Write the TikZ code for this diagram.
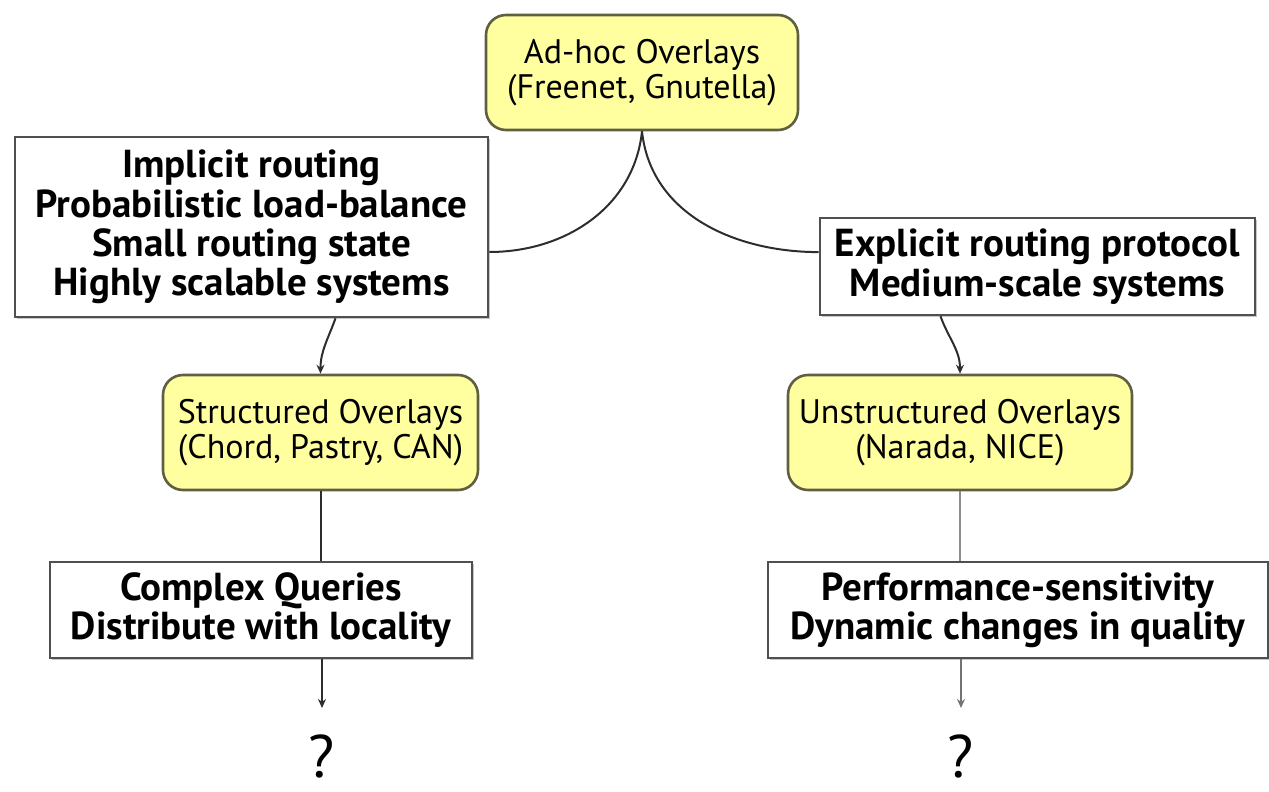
\documentclass[tikz,border=0pt]{standalone}
\usepackage{fontspec}
\setmainfont{PT Sans}
\usetikzlibrary{arrows.meta,shadows}
\definecolor{ovfill}{RGB}{255,255,160}
\definecolor{ovdraw}{RGB}{95,95,65}
\definecolor{boxdraw}{RGB}{80,80,80}
\definecolor{conn}{RGB}{45,45,45}
\tikzset{
  overlay/.style={draw=ovdraw, line width=1.3pt, fill=ovfill, rounded corners=10pt,
    align=center, inner sep=0pt, font=\fontsize{17}{17.5}\selectfont},
  infobox/.style={draw=boxdraw, line width=1.3pt, fill=white, align=center, inner sep=0pt,
    font=\bfseries\fontsize{19.5}{19.7}\selectfont,
    drop shadow={shadow xshift=1.2pt, shadow yshift=-1.2pt, fill=black!22, opacity=1}},
  link/.style={draw=conn, line width=1pt},
  arr/.style={link, -{Stealth[length=4.5pt,width=4pt]}},
  qmark/.style={inner sep=0pt, font=\fontsize{30}{30}\selectfont}
}
\begin{document}
\begin{tikzpicture}[x=0.5pt,y=-0.5pt]
\useasboundingbox (0,0) rectangle (1269,792);
\node[overlay, minimum width=156pt, minimum height=57.5pt] (adhoc) at (642,72.5)
  {Ad-hoc Overlays\\(Freenet, Gnutella)};
\node[infobox, minimum width=236.5pt, minimum height=90pt] (leftbox) at (251.5,227)
  {Implicit routing\\Probabilistic load-balance\\Small routing state\\Highly scalable systems};
\node[infobox, minimum width=217.5pt, minimum height=48.5pt] (rightbox) at (1037.5,266.5)
  {Explicit routing protocol\\Medium-scale systems};
\node[overlay, minimum width=157.5pt, minimum height=57.5pt] (struct) at (320.5,432.5)
  {Structured Overlays\\(Chord, Pastry, CAN)};
\node[overlay, minimum width=172pt, minimum height=57.5pt] (unstruct) at (960,432.5)
  {Unstructured Overlays\\(Narada, NICE)};
\node[infobox, minimum width=211pt, minimum height=48pt] (complex) at (261,610)
  {Complex Queries\\Distribute with locality};
\node[infobox, minimum width=250pt, minimum height=48pt] (perf) at (1018,610)
  {Performance-sensitivity\\Dynamic changes in quality};
\node[qmark, anchor=north] (q1) at (322,734) {?};
\node[qmark, anchor=north] (q2) at (961,734) {?};

\draw[link] (adhoc.south) to[out=-96,in=0] ([yshift=-12.5pt]leftbox.east);
\draw[link] (adhoc.south) to[out=-84,in=180] ([yshift=7.2pt]rightbox.west);
\draw[arr] ([xshift=42pt]leftbox.south) to[out=-110,in=90] (struct.north);
\draw[arr] ([xshift=-48.5pt]rightbox.south) to[out=-70,in=90] (unstruct.north);
\draw[link] (struct.south) -- (struct.south |- complex.north);
\draw[link, draw=black!45] (unstruct.south) -- (unstruct.south |- perf.north);
\draw[arr] (complex.south -| q1.north) -- ([yshift=13pt]q1.north);
\draw[arr, draw=black!55] (perf.south -| q2.north) -- ([yshift=13pt]q2.north);
\end{tikzpicture}
\end{document}
